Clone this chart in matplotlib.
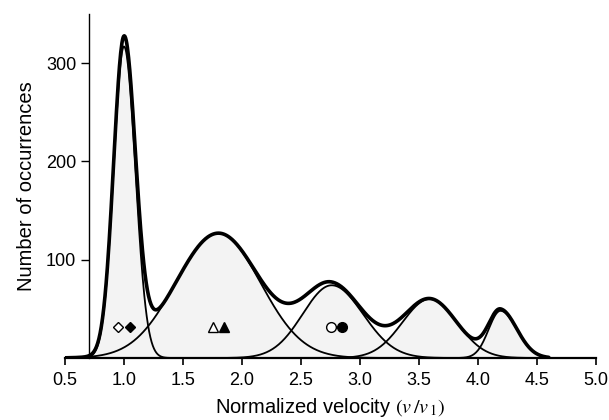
import numpy as np
import matplotlib
matplotlib.use("Agg")
import matplotlib.pyplot as plt

# === DATA ===
# fitted peak components: centre, height, left / right width
centers = [1.00, 1.80, 2.76, 3.59, 4.19]
heights = [317, 127, 74, 60, 48]
sigma_left = [0.088, 0.36, 0.245, 0.23, 0.10]
sigma_right = [0.096, 0.355, 0.265, 0.23, 0.14]

# marker pairs (open, filled) under the first three peaks
marker_x_open = [0.95, 1.75, 2.75]
marker_x_fill = [1.05, 1.85, 2.85]
marker_y = [32, 32, 32]
marker_shapes = ["D", "^", "o"]

xticks = [0.5, 1.0, 1.5, 2.0, 2.5, 3.0, 3.5, 4.0, 4.5, 5.0]
yticks = [100, 200, 300]

# === SETUP ===
plt.rcParams["font.family"] = "Liberation Sans"
plt.rcParams["mathtext.fontset"] = "stix"

fig = plt.figure(figsize=(6.09, 4.20), dpi=100)
ax = fig.add_axes([65 / 609, 62 / 420, 531 / 609, 344 / 420])

x = np.linspace(0.5, 4.6, 800)
total = np.zeros_like(x)
for c, h, sl, sr in zip(centers, heights, sigma_left, sigma_right):
    s = np.where(x < c, sl, sr)
    y = h * np.exp(-0.5 * ((x - c) / s) ** 2)
    total += y
    ax.fill_between(x, 0, y, color="#f3f3f3", lw=0, zorder=1)
    ax.plot(x, y, color="black", lw=1.3, zorder=3)

ax.plot(x, total, color="black", lw=2.6, zorder=4, solid_capstyle="round")

# markers
for xo, xf, ym, m in zip(marker_x_open, marker_x_fill, marker_y, marker_shapes):
    ms = 5.5 if m == "D" else 7
    ax.plot(xo, ym, marker=m, ms=ms, mfc="white", mec="black", mew=1.0, zorder=5)
    ax.plot(xf, ym, marker=m, ms=ms, mfc="black", mec="black", mew=1.0, zorder=5)

# === AXES ===
ax.set_xlim(0.5, 5.0)
ax.set_ylim(0, 350)
ax.spines["top"].set_visible(False)
ax.spines["right"].set_visible(False)
ax.spines["left"].set_position(("data", 0.7))
ax.spines["left"].set_linewidth(1.0)
ax.spines["bottom"].set_linewidth(1.6)

ax.set_xticks(xticks)
ax.set_xticklabels([f"{t:.1f}" for t in xticks])
ax.set_yticks(yticks)
ax.tick_params(axis="x", direction="out", length=5, width=1.2, labelsize=13, pad=5)
ax.tick_params(axis="y", direction="out", length=6, width=1.0, labelsize=13, pad=3)

ax.set_xlabel(r"Normalized velocity $(v\,/v_{\,1})$", fontsize=14.5, labelpad=5)
ax.set_ylabel("Number of occurrences", fontsize=14.5, labelpad=7)

fig.savefig("out.png", dpi=100)
